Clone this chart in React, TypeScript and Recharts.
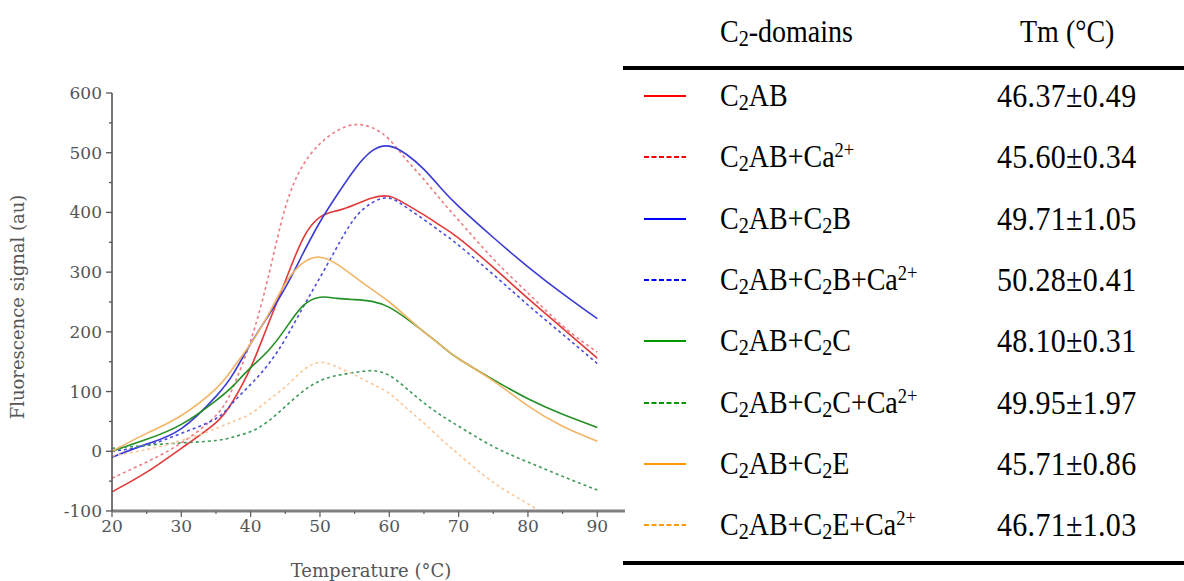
import React from "react";
import { LineChart, Line, XAxis, YAxis, Label } from "recharts";

// temperatures (°C) at which the curves were read
const temps = [20, 25, 30, 35, 37.5, 40, 42.5, 45, 47.5, 50, 52.5, 55, 57.5, 60, 62.5, 65, 67.5, 70, 75, 80, 85, 90];

const c2ab = [-68, -35, 5, 48, 85, 140, 212, 285, 355, 392, 403, 413, 424, 427, 413, 396, 377, 357, 308, 256, 206, 156];
const c2abCa = [-45, -18, 14, 60, 108, 185, 290, 408, 478, 515, 537, 547, 542, 522, 488, 455, 420, 387, 322, 265, 210, 166];
const c2abC2b = [-10, 12, 38, 92, 130, 180, 226, 274, 330, 384, 430, 472, 503, 511, 497, 472, 440, 410, 358, 309, 264, 222];
const c2abC2bCa = [0, 10, 30, 55, 82, 112, 145, 188, 240, 291, 343, 390, 416, 424, 408, 388, 367, 345, 296, 245, 196, 147];
const c2abC2c = [0, 20, 45, 85, 110, 140, 168, 205, 243, 258, 256, 254, 251, 241, 222, 200, 177, 155, 120, 88, 62, 40];
const c2abC2cCa = [5, 10, 14, 18, 24, 33, 50, 75, 100, 118, 127, 132, 135, 127, 105, 81, 60, 42, 8, -18, -42, -65];
const c2abC2e = [0, 30, 60, 105, 140, 180, 228, 281, 315, 325, 313, 292, 271, 250, 225, 200, 177, 155, 118, 76, 42, 17];
const c2abC2eCa = [-8, 3, 18, 38, 50, 63, 85, 108, 135, 149, 141, 128, 113, 97, 72, 47, 20, -5, -52, -88, -125, null];

const xTicks = [20, 25, 30, 35, 40, 45, 50, 55, 60, 65, 70, 75, 80, 85, 90];
const yTicks = [-100, -50, 0, 50, 100, 150, 200, 250, 300, 350, 400, 450, 500, 550, 600];

const seriesKeys = ["c2ab", "c2abCa", "c2abC2b", "c2abC2bCa", "c2abC2c", "c2abC2cCa", "c2abC2e", "c2abC2eCa"];
const seriesNames = [
  "C_2AB",
  "C_2AB+Ca^{2+}",
  "C_2AB+C_2B",
  "C_2AB+C_2B+Ca^{2+}",
  "C_2AB+C_2C",
  "C_2AB+C_2C+Ca^{2+}",
  "C_2AB+C_2E",
  "C_2AB+C_2E+Ca^{2+}",
];
const tmValues = ["46.37±0.49", "45.60±0.34", "49.71±1.05", "50.28±0.41", "48.10±0.31", "49.95±1.97", "45.71±0.86", "46.71±1.03"];
const legendColors = ["#ff0000", "#ff0000", "#0000ff", "#0000ff", "#009900", "#009900", "#ff9900", "#ff9900"];
const plotColors = ["#e23a3a", "#f07a82", "#3b3bd6", "#4a4ae0", "#248f24", "#3f9a5a", "#f2b466", "#f8c79a"];
const dashed = [false, true, false, true, false, true, false, true];

const allSeries = [c2ab, c2abCa, c2abC2b, c2abC2bCa, c2abC2c, c2abC2cCa, c2abC2e, c2abC2eCa];

const data = temps.map((t, i) => {
  const row: Record<string, number | null> = { t };
  seriesKeys.forEach((k, j) => {
    row[k] = allSeries[j][i];
  });
  return row;
});

const tickFont = "'DejaVu Serif', serif";

// renders "_2" as subscript and "^{2+}" as superscript
const RichName = ({ text }: { text: string }) => {
  const parts = text.split(/(_\d|\^\{[^}]+\})/).filter(Boolean);
  return (
    <>
      {parts.map((p, i) => {
        if (p.startsWith("_"))
          return (
            <span key={i} style={{ fontSize: "0.72em", position: "relative", top: "0.18em" }}>
              {p.slice(1)}
            </span>
          );
        if (p.startsWith("^{"))
          return (
            <span key={i} style={{ fontSize: "0.66em", position: "relative", top: "-0.5em" }}>
              {p.slice(2, -1)}
            </span>
          );
        return <span key={i}>{p}</span>;
      })}
    </>
  );
};

const XTick = (props: any) => {
  const { x, y, payload } = props;
  const major = payload.value % 10 === 0;
  return (
    <g>
      <line x1={x} x2={x} y1={y} y2={y + (major ? 6 : 3)} stroke="#666" strokeWidth={1.3} />
      {major && (
        <text x={x} y={y + 21} textAnchor="middle" fontFamily={tickFont} fontSize={17} fill="#555">
          {payload.value}
        </text>
      )}
    </g>
  );
};

const YTick = (props: any) => {
  const { x, y, payload } = props;
  const major = payload.value % 100 === 0;
  return (
    <g>
      <line x1={x} x2={x - (major ? 6 : 3)} y1={y} y2={y} stroke="#555" strokeWidth={1.3} />
      {major && (
        <text x={x - 10} y={y + 6} textAnchor="end" fontFamily={tickFont} fontSize={17} fill="#555">
          {payload.value}
        </text>
      )}
    </g>
  );
};

const rowTop = 96;
const rowStep = 61.3;
const tableFont = "'Liberation Serif', serif";
const tallText: React.CSSProperties = {
  position: "absolute",
  lineHeight: "34px",
  whiteSpace: "nowrap",
  transform: "scaleY(1.1)",
  transformOrigin: "left center",
};

const App: React.FC = () => {
  return (
    <div style={{ position: "absolute", left: 0, top: 0, width: 1184, height: 581, background: "#fff" }}>
      <div style={{ position: "absolute", left: 0, top: 0 }}>
        <LineChart width={640} height={581} data={data} margin={{ top: 93, right: 15, left: 52, bottom: 40 }}>
          <XAxis
            dataKey="t"
            type="number"
            domain={[20, 94]}
            ticks={xTicks}
            interval={0}
            tick={<XTick />}
            tickLine={false}
            tickSize={0}
            tickMargin={0}
            height={30}
            axisLine={{ stroke: "#808080", strokeWidth: 3 }}
          >
            <Label
              content={() => (
                <text x={371} y={577} textAnchor="middle" fontFamily={tickFont} fontSize={18} fill="#555">
                  Temperature (°C)
                </text>
              )}
            />
          </XAxis>
          <YAxis
            type="number"
            domain={[-100, 600]}
            allowDataOverflow
            ticks={yTicks}
            interval={0}
            tick={<YTick />}
            tickLine={false}
            tickSize={0}
            tickMargin={0}
            width={60}
            axisLine={{ stroke: "#555", strokeWidth: 1.6 }}
          >
            <Label
              content={() => (
                <text
                  x={24}
                  y={307}
                  transform="rotate(-90 24 307)"
                  textAnchor="middle"
                  fontFamily={tickFont}
                  fontSize={18}
                  fill="#555"
                >
                  Fluorescence signal (au)
                </text>
              )}
            />
          </YAxis>
          {seriesKeys.map((k, i) => (
            <Line
              key={k}
              dataKey={k}
              type="natural"
              stroke={plotColors[i]}
              strokeWidth={1.6}
              strokeDasharray={dashed[i] ? "3 3" : undefined}
              dot={false}
              activeDot={false}
              isAnimationActive={false}
            />
          ))}
        </LineChart>
      </div>

      {/* legend table */}
      <div style={{ fontFamily: tableFont, fontSize: 28, color: "#000" }}>
        <div style={{ ...tallText, left: 720, top: 32 - 17 }}>
          <RichName text="C_2-domains" />
        </div>
        <div style={{ ...tallText, left: 1020, top: 32 - 17 }}>Tm (°C)</div>
        <div style={{ position: "absolute", left: 623, top: 66, width: 561, height: 4, background: "#000" }} />
        {seriesNames.map((name, i) => {
          const cy = rowTop + i * rowStep;
          return (
            <React.Fragment key={name}>
              <svg style={{ position: "absolute", left: 644, top: cy - 3 }} width={42} height={6}>
                <line
                  x1={0}
                  x2={42}
                  y1={3}
                  y2={3}
                  stroke={legendColors[i]}
                  strokeWidth={2}
                  strokeDasharray={dashed[i] ? "5 2.5" : undefined}
                />
              </svg>
              <div style={{ ...tallText, left: 720, top: cy - 17 }}>
                <RichName text={name} />
              </div>
              <div style={{ ...tallText, left: 997, top: cy - 17, fontSize: 30, letterSpacing: 0.3 }}>
                {tmValues[i]}
              </div>
            </React.Fragment>
          );
        })}
        <div style={{ position: "absolute", left: 623, top: 561, width: 561, height: 4, background: "#000" }} />
      </div>
    </div>
  );
};

export default App;
